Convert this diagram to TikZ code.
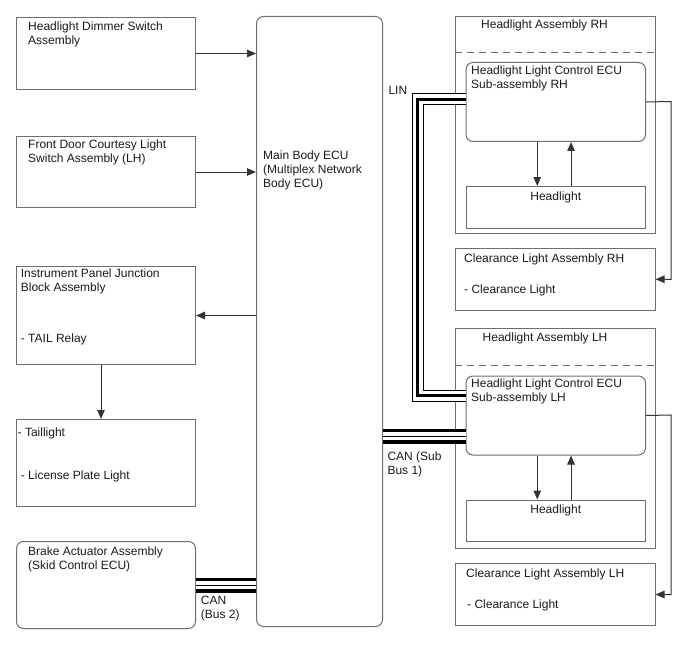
\documentclass[tikz,border=0pt]{standalone}
\usepackage{fontspec}
\setmainfont{Liberation Sans}
\usetikzlibrary{arrows.meta,positioning}
\definecolor{BcmEdge}{HTML}{6E6E6E}
\definecolor{BcmWire}{HTML}{333333}
\definecolor{BcmInk}{HTML}{1A1A1A}
\tikzset{
  bcmbox/.style={
    draw=BcmEdge,
    line width=1pt,
    anchor=north west,
    inner sep=0pt,
    minimum width=179pt
  },
  bcmecu/.style={
    bcmbox,
    rounded corners=7pt
  },
  bcmtext/.style={anchor=north west,inner sep=0pt,align=left,text=BcmInk,font=\fontsize{12}{14}\selectfont},
  bcmarrow/.style={-{Triangle[length=9pt,width=7.5pt]},line width=1pt,draw=BcmWire},
  bcmdash/.style={draw=BcmEdge,line width=1pt,dash pattern=on 7pt off 5pt},
  canbus/.style={draw=white,line width=8pt,preaction={draw=black,line width=15pt},postaction={draw=black,line width=1pt}},
  linbus/.style={draw=white,line width=10pt,line join=miter,
    preaction={draw=black,line width=12pt,line join=miter},
    postaction={draw=black,line width=3pt,line join=miter}}
}

\begin{document}
\begin{tikzpicture}[x=1pt,y=-1pt]
    \useasboundingbox (0,0) rectangle (688,658);
    \node[bcmbox,minimum height=72pt] (dimmer) at (16,17) {};
    \node[bcmbox,minimum height=71pt] (door) at (16,136) {};
    \node[bcmbox,minimum height=98pt] (ipjb) at (16,266) {};
    \node[bcmbox,minimum height=87pt] (tail) at (16,419) {};
    \node[bcmecu,minimum height=87pt] (brake) at (16,541) {};
    \node[bcmecu,minimum width=126pt,minimum height=610pt] (ecu) at (256,16) {};
    \node[bcmbox,minimum width=200pt,minimum height=217pt] (hlrh) at (454.5,16) {};
    \node[bcmecu,minimum width=179.5pt,minimum height=79pt] (ecurh) at (465.5,62) {};
    \node[bcmbox,minimum width=179.5pt,minimum height=41.5pt] (headrh) at (465.5,186) {};
    \node[bcmbox,minimum width=200pt,minimum height=61.5pt] (clrrh) at (454.5,248) {};
    \node[bcmbox,minimum width=200pt,minimum height=219.5pt] (hllh) at (454.5,328) {};
    \node[bcmecu,minimum width=179.5pt,minimum height=79pt] (eculh) at (465.5,375.5) {};
    \node[bcmbox,minimum width=179.5pt,minimum height=41.5pt] (headlh) at (465.5,499.5) {};
    \node[bcmbox,minimum width=200pt,minimum height=62pt] (clrlh) at (454.5,563) {};

    \node[bcmtext] (dimmertxt) at ([shift={(12,4.3)}]dimmer.north west) {Headlight Dimmer Switch\\Assembly};
    \node[bcmtext] (doortxt) at ([shift={(12,3.8)}]door.north west) {Front Door Courtesy Light\\Switch Assembly (LH)};
    \node[bcmtext] (ipjbtxt) at ([shift={(4.7,2.8)}]ipjb.north west) {Instrument Panel Junction\\Block Assembly};
    \node[bcmtext] (relaytxt) at ([shift={(4.7,67.3)}]ipjb.north west) {- TAIL Relay};
    \node[bcmtext] (tailtxt) at ([shift={(1.5,8.3)}]tail.north west) {- Taillight};
    \node[bcmtext] (platetxt) at ([shift={(4.7,51.8)}]tail.north west) {- License Plate Light};
    \node[bcmtext] (braketxt) at ([shift={(12,5.3)}]brake.north west) {Brake Actuator Assembly\\(Skid Control ECU)};
    \node[bcmtext] (ecutxt) at ([shift={(7,134.3)}]ecu.north west) {Main Body ECU\\(Multiplex Network\\Body ECU)};
    \node[bcmtext] (hlrhtxt) at ([shift={(26.5,3.8)}]hlrh.north west) {Headlight Assembly RH};
    \node[bcmtext] (ecurhtxt) at ([shift={(5.5,3.8)}]ecurh.north west) {Headlight Light Control ECU\\Sub-assembly RH};
    \node[bcmtext,anchor=north] (headrhtxt) at ([yshift=-5.3pt]headrh.north) {Headlight};
    \node[bcmtext] (clrrhtxt) at ([shift={(9.5,5.3)}]clrrh.north west) {Clearance Light Assembly RH};
    \node[bcmtext] (lamprhtxt) at ([shift={(9.5,36.3)}]clrrh.north west) {- Clearance Light};
    \node[bcmtext] (hllhtxt) at ([shift={(28,4.8)}]hllh.north west) {Headlight Assembly LH};
    \node[bcmtext] (eculhtxt) at ([shift={(5.5,2.8)}]eculh.north west) {Headlight Light Control ECU\\Sub-assembly LH};
    \node[bcmtext,anchor=north] (headlhtxt) at ([yshift=-5.3pt]headlh.north) {Headlight};
    \node[bcmtext] (clrlhtxt) at ([shift={(11.5,5.3)}]clrlh.north west) {Clearance Light Assembly LH};
    \node[bcmtext] (lamplhtxt) at ([shift={(12.5,36.3)}]clrlh.north west) {- Clearance Light};
    \node[bcmtext] (lintxt) at (388.3,86.3) {LIN};
    \node[bcmtext] (cansubtxt) at (387.3,451.3) {CAN (Sub\\Bus 1)};
    \node[bcmtext] (canbustxt) at (200.7,596.3) {CAN\\(Bus 2)};

    \draw[bcmdash] ([yshift=-36.5pt]hlrh.north west) -- ([yshift=-36.5pt]hlrh.north east);
    \draw[bcmdash] ([yshift=-37pt]hllh.north west) -- ([yshift=-37pt]hllh.north east);

    \coordinate (rhdrop) at (671,101.5);
    \coordinate (lhdrop) at (671,415);
    \draw[bcmarrow] (dimmer.east) -- (dimmer.east -| ecu.west);
    \draw[bcmarrow] (door.east) -- (door.east -| ecu.west);
    \draw[bcmarrow] (ipjb.east -| ecu.west) -- (ipjb.east);
    \draw[bcmarrow] ([xshift=-5pt]ipjb.south) -- ([xshift=-5pt]ipjb.south |- tail.north);
    \draw[bcmarrow] ([xshift=-18.5pt]ecurh.south) -- ([xshift=-18.5pt]ecurh.south |- headrh.north);
    \draw[bcmarrow] ([xshift=15.3pt]headrh.north) -- ([xshift=15.3pt]headrh.north |- ecurh.south);
    \draw[bcmarrow] ([xshift=-18.5pt]eculh.south) -- ([xshift=-18.5pt]eculh.south |- headlh.north);
    \draw[bcmarrow] ([xshift=15.3pt]headlh.north) -- ([xshift=15.3pt]headlh.north |- eculh.south);
    \draw[bcmarrow] (ecurh.east) -- (rhdrop) |- (clrrh.east);
    \draw[bcmarrow] (eculh.east) -- (lhdrop) |- (clrlh.east);

    \draw[linbus] ([yshift=2.5pt]ecurh.west) -- ++(-48,0) |- ([yshift=20pt]eculh.west);
    \draw[canbus] ([yshift=-20.5pt]eculh.west) -- ([yshift=-20.5pt]eculh.west -| ecu.east);
    \draw[canbus] (brake.east) -- (brake.east -| ecu.west);
  \end{tikzpicture}
\end{document}
